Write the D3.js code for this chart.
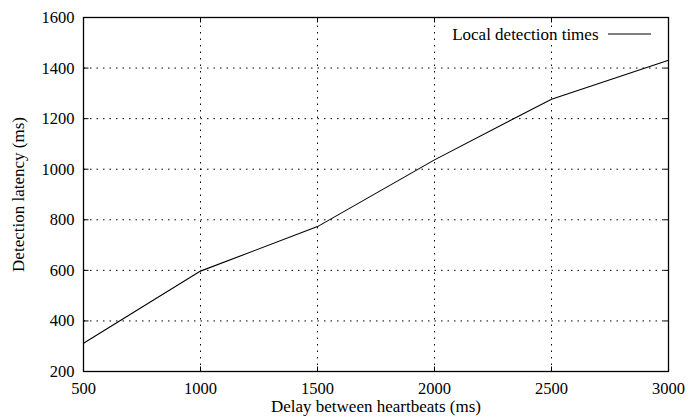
<!DOCTYPE html>
<html>
<head>
<meta charset="utf-8">
<script src="https://cdn.jsdelivr.net/npm/d3@7"></script>
<style>
  body { margin: 0; background: #fff; }
  svg { display: block; }
</style>
</head>
<body>
<svg id="chart" width="689" height="417" font-family="'Liberation Serif', 'Times New Roman', Times, serif"></svg>
<script>
const delays = [500, 1000, 1500, 2000, 2500, 3000];
const latencies = [312, 597, 773, 1037, 1277, 1431];
const xTicks = [500, 1000, 1500, 2000, 2500, 3000];
const yTicks = [200, 400, 600, 800, 1000, 1200, 1400, 1600];
const seriesName = "Local detection times";
const xTitle = "Delay between heartbeats (ms)";
const yTitle = "Detection latency (ms)";

const svg = d3.select("#chart");
const m = { left: 83.5, right: 668.5, top: 17.5, bottom: 371.5 };
const x = d3.scaleLinear().domain([500, 3000]).range([m.left, m.right]);
const y = d3.scaleLinear().domain([200, 1600]).range([m.bottom, m.top]);
const tickLen = 5;

// grid
const grid = svg.append("g").attr("stroke", "#000").attr("stroke-width", 1).attr("stroke-dasharray", "1.5,5");
grid.selectAll(".gx").data(xTicks.slice(1, -1)).enter().append("line")
  .attr("x1", d => x(d)).attr("x2", d => x(d)).attr("y1", m.bottom).attr("y2", m.top);
grid.selectAll(".gy").data(yTicks.slice(1, -1)).enter().append("line")
  .attr("y1", d => y(d)).attr("y2", d => y(d)).attr("x1", m.left).attr("x2", m.right);

// ticks (inward, all sides)
const ticks = svg.append("g").attr("stroke", "#000").attr("stroke-width", 1);
xTicks.forEach(d => {
  ticks.append("line").attr("x1", x(d)).attr("x2", x(d)).attr("y1", m.bottom).attr("y2", m.bottom - tickLen);
  ticks.append("line").attr("x1", x(d)).attr("x2", x(d)).attr("y1", m.top).attr("y2", m.top + tickLen);
});
yTicks.forEach(d => {
  ticks.append("line").attr("y1", y(d)).attr("y2", y(d)).attr("x1", m.left).attr("x2", m.left + tickLen);
  ticks.append("line").attr("y1", y(d)).attr("y2", y(d)).attr("x1", m.right).attr("x2", m.right - tickLen);
});

// frame
svg.append("rect").attr("x", m.left).attr("y", m.top)
  .attr("width", m.right - m.left).attr("height", m.bottom - m.top)
  .attr("fill", "none").attr("stroke", "#000").attr("stroke-width", 1.3);

// tick labels
svg.append("g").selectAll("text").data(xTicks).enter().append("text")
  .attr("x", d => x(d)).attr("y", m.bottom + 22).attr("text-anchor", "middle")
  .attr("font-size", 16.5).attr("fill", "#000").text(d => d);
svg.append("g").selectAll("text").data(yTicks).enter().append("text")
  .attr("x", m.left - 9).attr("y", d => y(d) + 5.5).attr("text-anchor", "end")
  .attr("font-size", 16.5).attr("fill", "#000").text(d => d);

// axis titles
svg.append("text").attr("x", 376).attr("y", 411.5)
  .attr("text-anchor", "middle").attr("font-size", 17).attr("fill", "#000").text(xTitle);
svg.append("text").attr("transform", `translate(24,${(m.top + m.bottom) / 2}) rotate(-90)`)
  .attr("text-anchor", "middle").attr("font-size", 17).attr("fill", "#000").text(yTitle);

// line
const line = d3.line().x((d, i) => x(delays[i])).y(d => y(d));
svg.append("path").datum(latencies).attr("d", line)
  .attr("fill", "none").attr("stroke", "#000").attr("stroke-width", 1.1);

// legend
svg.append("text").attr("x", 598.5).attr("y", 40).attr("text-anchor", "end")
  .attr("font-size", 17).attr("fill", "#000").text(seriesName);
svg.append("line").attr("x1", 608).attr("x2", 651).attr("y1", 34).attr("y2", 34)
  .attr("stroke", "#000").attr("stroke-width", 1.1);
</script>
</body>
</html>
